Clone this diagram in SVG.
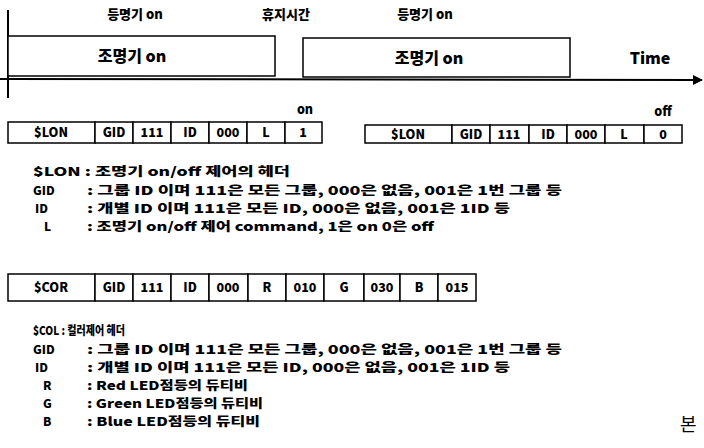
<svg xmlns="http://www.w3.org/2000/svg" width="704" height="448" viewBox="0 0 704 448">
<style>
text{font-family:"Noto Sans CJK KR","Liberation Sans",sans-serif;font-weight:900;fill:#000}
.t{font-size:13px}
.b{font-size:16px}
.c{font-size:12.5px;text-anchor:middle}
.d{font-size:12px}
.box{fill:#fff;stroke:#000;stroke-width:1.5}
.ax{stroke:#000;stroke-width:2;fill:none}
</style>
<defs>
<marker id="arr" viewBox="0 0 10 10" refX="9" refY="5" markerWidth="5" markerHeight="5" orient="auto" markerUnits="strokeWidth">
<path d="M0,0 L10,5 L0,10 z" fill="#000"/>
</marker>
</defs>
<g id="connectors">
<line class="ax" x1="8" y1="10" x2="8" y2="98"/>
<line class="ax" x1="0" y1="79" x2="702" y2="80" marker-end="url(#arr)"/>
</g>
<g id="labels-top">
<text class="t" x="135" y="19" text-anchor="middle">등명기 on</text>
<text class="t" x="286" y="19" text-anchor="middle">휴지시간</text>
<text class="t" x="425" y="19" text-anchor="middle">등명기 on</text>
<text class="b" x="650" y="64" text-anchor="middle">Time</text>
</g>
<g id="on1">
<rect class="box" x="8" y="36" width="267" height="40"/>
<text class="b" x="132" y="62" text-anchor="middle">조명기  on</text>
</g>
<g id="on2">
<rect class="box" x="303" y="38" width="267" height="39"/>
<text class="b" x="429" y="64" text-anchor="middle">조명기  on</text>
</g>
<g id="packet-on">
<text class="c" x="305" y="114">on</text>
<rect class="box" x="8" y="122" width="87" height="21"/>
<rect class="box" x="95" y="122" width="38" height="21"/>
<rect class="box" x="133" y="122" width="38" height="21"/>
<rect class="box" x="171" y="122" width="38" height="21"/>
<rect class="box" x="209" y="122" width="38" height="21"/>
<rect class="box" x="247" y="122" width="38" height="21"/>
<rect class="box" x="285" y="122" width="37" height="21"/>
<text class="c" x="51" y="137">$LON</text>
<text class="c" x="114" y="137">GID</text>
<text class="c" x="152" y="137">111</text>
<text class="c" x="190" y="137">ID</text>
<text class="c" x="228" y="137">000</text>
<text class="c" x="266" y="137">L</text>
<text class="c" x="303" y="137">1</text>
</g>
<g id="packet-off">
<text class="c" x="663" y="116">off</text>
<rect class="box" x="365" y="125" width="87" height="18"/>
<rect class="box" x="452" y="125" width="38" height="18"/>
<rect class="box" x="490" y="125" width="39" height="18"/>
<rect class="box" x="529" y="125" width="38" height="18"/>
<rect class="box" x="567" y="125" width="38" height="18"/>
<rect class="box" x="605" y="125" width="39" height="18"/>
<rect class="box" x="644" y="125" width="38" height="18"/>
<text class="c" x="408" y="139">$LON</text>
<text class="c" x="471" y="139">GID</text>
<text class="c" x="509" y="139">111</text>
<text class="c" x="548" y="139">ID</text>
<text class="c" x="586" y="139">000</text>
<text class="c" x="624" y="139">L</text>
<text class="c" x="663" y="139">0</text>
</g>
<g id="desc-lon">
<text class="d" x="33" y="176" textLength="257" lengthAdjust="spacingAndGlyphs">$LON : 조명기 on/off 제어의 헤더</text>
<text class="d" x="33" y="195">GID</text>
<text class="d" x="87" y="195" textLength="475" lengthAdjust="spacingAndGlyphs">: 그룹 ID 이며 111은 모든 그룹, 000은 없음, 001은 1번 그룹 등</text>
<text class="d" x="35" y="213">ID</text>
<text class="d" x="87" y="213" textLength="423" lengthAdjust="spacingAndGlyphs">: 개별 ID 이며 111은 모든 ID, 000은 없음, 001은 1ID 등</text>
<text class="d" x="44" y="231">L</text>
<text class="d" x="87" y="231" textLength="347" lengthAdjust="spacingAndGlyphs">: 조명기 on/off 제어 command, 1은 on 0은 off</text>
</g>
<g id="packet-col">
<rect class="box" x="8" y="274" width="87" height="27"/>
<rect class="box" x="95" y="274" width="38" height="27"/>
<rect class="box" x="133" y="274" width="38" height="27"/>
<rect class="box" x="171" y="274" width="38" height="27"/>
<rect class="box" x="209" y="274" width="39" height="27"/>
<rect class="box" x="248" y="274" width="38" height="27"/>
<rect class="box" x="286" y="274" width="38" height="27"/>
<rect class="box" x="324" y="274" width="40" height="27"/>
<rect class="box" x="364" y="274" width="36" height="27"/>
<rect class="box" x="400" y="274" width="38" height="27"/>
<rect class="box" x="438" y="274" width="38" height="27"/>
<text class="c" x="51" y="292">$COR</text>
<text class="c" x="114" y="292">GID</text>
<text class="c" x="152" y="292">111</text>
<text class="c" x="190" y="292">ID</text>
<text class="c" x="228" y="292">000</text>
<text class="c" x="267" y="292">R</text>
<text class="c" x="305" y="292">010</text>
<text class="c" x="344" y="292">G</text>
<text class="c" x="382" y="292">030</text>
<text class="c" x="419" y="292">B</text>
<text class="c" x="457" y="292">015</text>
</g>
<g id="desc-col">
<text class="d" x="33" y="335" textLength="92" lengthAdjust="spacingAndGlyphs">$COL : 컬러제어 헤더</text>
<text class="d" x="33" y="354">GID</text>
<text class="d" x="87" y="354" textLength="475" lengthAdjust="spacingAndGlyphs">: 그룹 ID 이며 111은 모든 그룹, 000은 없음, 001은 1번 그룹 등</text>
<text class="d" x="35" y="372">ID</text>
<text class="d" x="87" y="372" textLength="423" lengthAdjust="spacingAndGlyphs">: 개별 ID 이며 111은 모든 ID, 000은 없음, 001은 1ID 등</text>
<text class="d" x="43" y="390">R</text>
<text class="d" x="87" y="390" textLength="161" lengthAdjust="spacingAndGlyphs">: Red LED점등의  듀티비</text>
<text class="d" x="43" y="408">G</text>
<text class="d" x="87" y="408" textLength="176" lengthAdjust="spacingAndGlyphs">: Green LED점등의  듀티비</text>
<text class="d" x="43" y="426">B</text>
<text class="d" x="87" y="426" textLength="173" lengthAdjust="spacingAndGlyphs">: Blue LED점등의  듀티비</text>
</g>
<text x="680" y="431" style="font-weight:400;font-size:18px">본</text>
</svg>
